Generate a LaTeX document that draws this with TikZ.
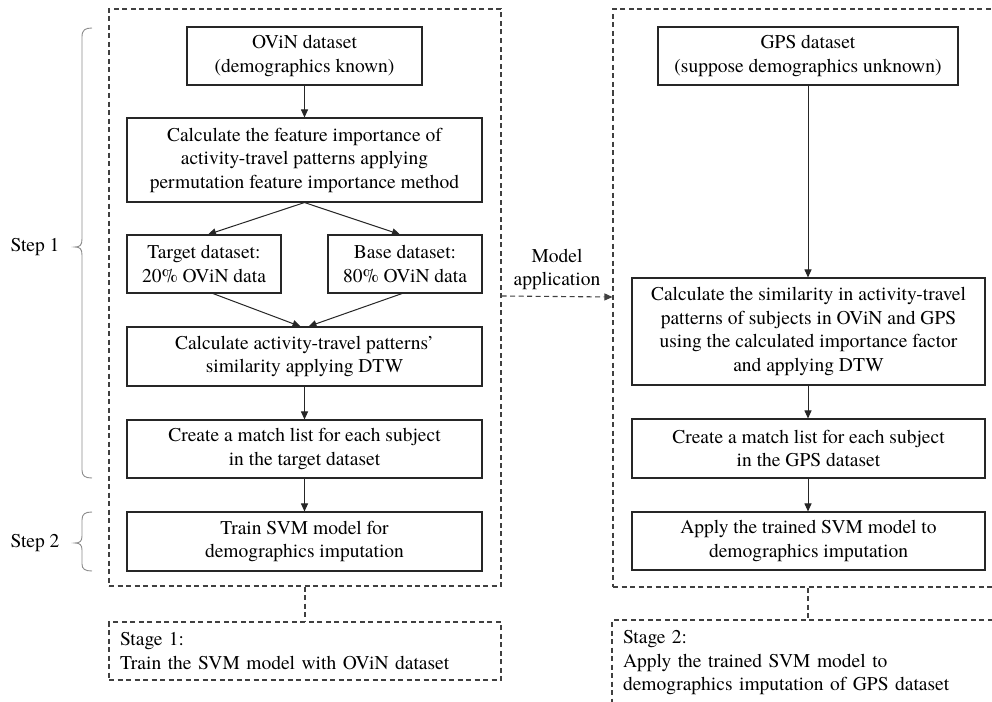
\documentclass[tikz,border=0pt]{standalone}
\usepackage{fontspec}
\setmainfont{texgyretermes}[Extension=.otf, UprightFont=*-regular, BoldFont=*-bold, ItalicFont=*-italic, BoldItalicFont=*-bolditalic]
\usetikzlibrary{arrows.meta,calc}
\definecolor{boxc}{HTML}{262626}
\definecolor{dashc}{HTML}{404040}
\definecolor{bracec}{HTML}{8C8C8C}
\begin{document}
\begin{tikzpicture}[x=1pt,y=-1pt,
  txt/.style={font=\fontsize{19.5}{23.5}\selectfont},
  box/.style={txt, draw=boxc, line width=1.1pt, align=center, inner sep=0pt},
  grp/.style={draw=dashc, dash pattern=on 5pt off 3.5pt, line width=1.1pt, inner sep=0pt},
  grpline/.style={draw=dashc, dash pattern=on 5pt off 3.5pt, line width=1.1pt},
  arr/.style={-{Triangle[length=8pt,width=7pt]}, line width=1pt, draw=boxc},
  lbl/.style={txt, inner sep=0pt, align=center},
  bracepath/.style={draw=bracec, line width=0.9pt}]

\clip (0,0) rectangle (992,701);
\fill[white] (0,0) rectangle (992,701);

% group frames
\node[grp, minimum width=392pt, minimum height=577pt] (lbig) at (305,297.5) {};
\node[grp, minimum width=397pt, minimum height=578pt] (rbig) at (811.5,298) {};

% left column
\node[box, minimum width=235pt, minimum height=58pt] (ovin) at (304.5,56) {OViN dataset\\(demographics known)};
\node[box, minimum width=355pt, minimum height=84pt] (feat) at (304.5,160) {Calculate the feature importance of\\activity-travel patterns applying\\permutation feature importance method};
\node[box, minimum width=154pt, minimum height=58pt] (target) at (204,264) {Target dataset:\\20\% OViN data};
\node[box, minimum width=154pt, minimum height=58pt] (base) at (405,264) {Base dataset:\\80\% OViN data};
\node[box, minimum width=355pt, minimum height=59pt] (sim) at (304.5,356.5) {Calculate activity-travel patterns'\\similarity applying DTW};
\node[box, minimum width=355pt, minimum height=58pt] (match) at (304.5,449) {Create a match list for each subject\\in the target dataset};
\node[box, minimum width=355pt, minimum height=59pt] (svm) at (304.5,541.5) {Train SVM model for\\demographics imputation};

% right column
\node[box, minimum width=300pt, minimum height=58pt] (gps) at (808,56) {GPS dataset\\(suppose demographics unknown)};
\node[box, minimum width=353pt, minimum height=107pt] (rsim) at (808.5,331.5) {Calculate the similarity in activity-travel\\patterns of subjects in OViN and GPS\\using the calculated importance factor\\and applying DTW};
\node[box, minimum width=353pt, minimum height=59pt] (rmatch) at (808.5,448.5) {Create a match list for each subject\\in the GPS dataset};
\node[box, minimum width=353pt, minimum height=58pt] (rsvm) at (808.5,541) {Apply the trained SVM model to\\demographics imputation};

% stages
\node[grp, txt, minimum width=392pt, minimum height=58pt, text width=370pt, inner xsep=11pt, align=left] (s1) at (305,651) {Stage 1:\\Train the SVM model with OViN dataset};
\node[grp, txt, minimum width=398pt, minimum height=86pt, text width=376pt, inner xsep=11pt, align=left] (s2) at (811,663) {Stage 2:\\Apply the trained SVM model to\\demographics imputation of GPS dataset};

% labels
\node[lbl] (step1) at (35,247) {Step 1};
\node[lbl] (step2) at (35,543) {Step 2};
\node[lbl] (modelapp) at (557,269.5) {Model\\application};

% braces
\draw[bracepath] (92,28) .. controls (85,28) and (82,30) .. (82,37) -- (82,239)
  .. controls (82,245) and (80,247) .. (75,247) .. controls (80,247) and (82,249) .. (82,255)
  -- (82,470) .. controls (82,476) and (85,478) .. (92,478);
\draw[bracepath] (92,512) .. controls (85,512) and (82,514) .. (82,520) -- (82,536)
  .. controls (82,541) and (80,543) .. (75,543) .. controls (80,543) and (82,545) .. (82,550)
  -- (82,564) .. controls (82,569) and (85,571) .. (92,571);

% left connectors
\draw[arr] (ovin) -- (feat);
\draw[arr] (feat.south) -- ([xshift=4pt]target.north);
\draw[arr] (feat.south) -- ([xshift=-5pt]base.north);
\draw[arr] ([xshift=9pt]target.south) -- ([xshift=-4pt]sim.north);
\draw[arr] ([xshift=-3pt]base.south) -- ([xshift=4pt]sim.north);
\draw[arr] (sim) -- (match);
\draw[arr] (match) -- (svm);

% right connectors
\draw[arr] (gps.south) -- (gps.south |- rsim.north);
\draw[arr] (rsim.south -| gps.south) -- (rmatch.north -| gps.south);
\draw[arr] (rmatch.south -| gps.south) -- (rsvm.north -| gps.south);

% model application
\draw[grpline, -{Triangle[length=8pt,width=7pt]}] ([yshift=1.5pt]lbig.east) -- ([yshift=1pt]rbig.west);

% stage links
\draw[grpline] (lbig.south) -- (s1.north);
\draw[grpline] (gps.south |- rbig.south) -- (gps.south |- s2.north);
\end{tikzpicture}
\end{document}
